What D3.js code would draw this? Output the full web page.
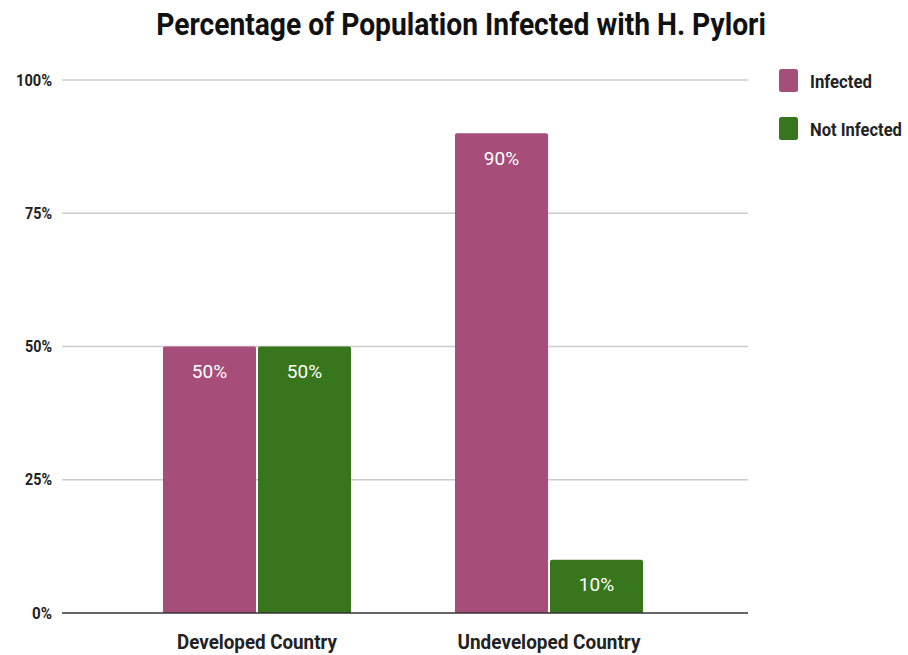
<!DOCTYPE html>
<html>
<head>
<meta charset="utf-8">
<script src="https://cdn.jsdelivr.net/npm/d3@7"></script>
<style>
  body { margin: 0; background: #fff; }
  text { font-family: Roboto, "Noto Sans", sans-serif; }
</style>
</head>
<body>
<div id="chart"></div>
<script>
// data
const categories = ["Developed Country", "Undeveloped Country"];
const series = ["Infected", "Not Infected"];
const infected = [50, 90];
const not_infected = [50, 10];
const y_ticks = [0, 25, 50, 75, 100];
const colors = ["#a64d79", "#38761d"];

const width = 908, height = 655;

const svg = d3.select("#chart").append("svg")
  .attr("width", width)
  .attr("height", height);

// squeeze a text horizontally so it reads like the condensed font in the original
function squeeze(sel, x, y, target, anchor) {
  sel.each(function(d, i) {
    const t = d3.select(this);
    const w = this.getComputedTextLength();
    const goal = typeof target === "function" ? target(d, i) : target;
    const k = Math.min(1, goal / w);
    const xx = typeof x === "function" ? x(d, i) : x;
    const yy = typeof y === "function" ? y(d, i) : y;
    t.attr("text-anchor", anchor || "start")
      .attr("transform", `translate(${xx},${yy}) scale(${k},1)`);
  });
}

// plot area
const grid_left = 62, grid_right = 748;
const y = d3.scaleLinear().domain([0, 100]).range([613, 80]);

const x0 = d3.scaleBand()
  .domain(categories)
  .range([111, 695])
  .paddingInner(0.356)
  .paddingOuter(0.178);

const x1 = d3.scaleBand()
  .domain(series)
  .range([0, x0.bandwidth()])
  .paddingInner(0.02);

// title
svg.append("text")
  .attr("font-size", 31)
  .attr("font-weight", 700)
  .attr("fill", "#111")
  .text("Percentage of Population Infected with H. Pylori")
  .call(squeeze, width / 2 + 7, 35, 610, "middle");

// gridlines + y labels
const gy = svg.append("g");
y_ticks.forEach(t => {
  if (t > 0) {
    gy.append("line")
      .attr("x1", grid_left).attr("x2", grid_right)
      .attr("y1", y(t)).attr("y2", y(t))
      .attr("stroke", "#cccccc").attr("stroke-width", 1.3);
  }
  gy.append("text")
    .attr("dy", "0.35em")
    .attr("font-size", 16)
    .attr("font-weight", 700)
    .attr("fill", "#222")
    .text(t + "%")
    .call(squeeze, 52, y(t), t === 100 ? 36 : (t === 0 ? 20 : 27), "end");
});

// bars
const rows = categories.map((c, i) => ({cat: c, vals: [infected[i], not_infected[i]]}));

function top_rounded(x, yTop, w, h, r) {
  return `M${x},${yTop + h}V${yTop + r}Q${x},${yTop} ${x + r},${yTop}H${x + w - r}Q${x + w},${yTop} ${x + w},${yTop + r}V${yTop + h}Z`;
}

const groups = svg.selectAll("g.cat")
  .data(rows)
  .join("g")
  .attr("class", "cat")
  .attr("transform", d => `translate(${x0(d.cat)},0)`);

groups.selectAll("path")
  .data(d => d.vals.map((v, j) => ({s: series[j], v: v, j: j})))
  .join("path")
  .attr("d", d => top_rounded(x1(d.s), y(d.v), x1.bandwidth(), y(0) - y(d.v), 2))
  .attr("fill", d => colors[d.j]);

groups.selectAll("text")
  .data(d => d.vals.map((v, j) => ({s: series[j], v: v})))
  .join("text")
  .attr("x", d => x1(d.s) + x1.bandwidth() / 2)
  .attr("y", d => y(d.v) + 25)
  .attr("dy", "0.35em")
  .attr("text-anchor", "middle")
  .attr("font-size", 19)
  .attr("fill", "#fff")
  .text(d => d.v + "%");

// baseline
svg.append("line")
  .attr("x1", grid_left).attr("x2", grid_right)
  .attr("y1", y(0)).attr("y2", y(0))
  .attr("stroke", "#333").attr("stroke-width", 1.6);

// x labels
const label_w = {"Developed Country": 160, "Undeveloped Country": 183};
svg.selectAll("text.xl")
  .data(categories)
  .join("text")
  .attr("class", "xl")
  .attr("font-size", 21)
  .attr("font-weight", 700)
  .attr("fill", "#222")
  .text(d => d)
  .call(squeeze, d => x0(d) + x0.bandwidth() / 2, 649, d => label_w[d], "middle");

// legend
const legend_w = [62, 92];
const lg = svg.selectAll("g.leg")
  .data(series)
  .join("g")
  .attr("class", "leg")
  .attr("transform", (d, i) => `translate(779,${69 + i * 48})`);

lg.append("rect")
  .attr("width", 19).attr("height", 23)
  .attr("rx", 2.5)
  .attr("fill", (d, i) => colors[i]);

lg.append("text")
  .attr("dy", "0.35em")
  .attr("font-size", 19)
  .attr("font-weight", 700)
  .attr("fill", "#222")
  .text(d => d)
  .call(squeeze, 31, 12, (d, i) => legend_w[i], "start");
</script>
</body>
</html>
